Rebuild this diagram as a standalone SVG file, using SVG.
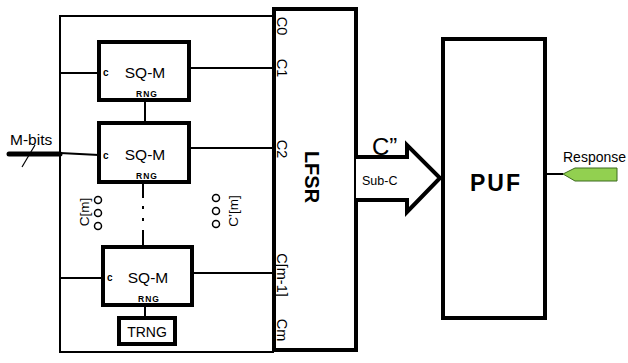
<svg xmlns="http://www.w3.org/2000/svg" width="628" height="363" viewBox="0 0 628 363">
<style>
text{font-family:"Liberation Sans",Arial,sans-serif;fill:#000}
.box{fill:#fff;stroke:#000;stroke-width:4}
.w{fill:none;stroke:#000;stroke-width:2}
.sq{font-size:15.5px;text-anchor:middle}
.rng{font-size:8.5px;font-weight:bold;text-anchor:middle;letter-spacing:1px}
.c{font-size:10px;font-weight:bold}
.lab{font-size:14.5px;text-anchor:middle;dominant-baseline:central}
.dot{fill:#fff;stroke:#000;stroke-width:1.5}
</style>
<rect width="628" height="363" fill="#fff"/>
<g id="connectors">
<polyline class="w" points="274,16 60,16 60,352 274,352"/>
<line class="w" x1="60" y1="73" x2="99" y2="73"/>
<line class="w" x1="60" y1="153" x2="99" y2="155"/>
<line class="w" x1="60" y1="278" x2="103" y2="278"/>
<line class="w" x1="189" y1="68" x2="274" y2="68"/>
<line class="w" x1="189" y1="148" x2="274" y2="148"/>
<line class="w" x1="192" y1="273" x2="274" y2="273"/>
<line class="w" x1="145" y1="100" x2="145" y2="123"/>
<line class="w" x1="143" y1="182" x2="143" y2="198"/>
<line class="w" x1="143" y1="206" x2="143" y2="209"/>
<line class="w" x1="143" y1="218" x2="143" y2="221"/>
<line class="w" x1="143" y1="230" x2="143" y2="247"/>
<line class="w" x1="145" y1="305" x2="145" y2="318"/>
<line x1="9" y1="154" x2="60" y2="154" stroke="#000" stroke-width="5" stroke-linecap="round"/>
<line x1="22" y1="167" x2="35" y2="145" stroke="#000" stroke-width="1.2"/>
<line class="w" x1="545" y1="174" x2="563" y2="174"/>
</g>
<g id="mbits"><text x="10" y="145" style="font-size:15.5px">M-bits</text></g>
<g id="sqm1">
<rect class="box" x="99" y="42" width="90" height="58"/>
<text class="c" x="103" y="76">c</text>
<text class="sq" x="145" y="78">SQ-M</text>
<text class="rng" x="147" y="97">RNG</text>
</g>
<g id="sqm2">
<rect class="box" x="99" y="123" width="90" height="59"/>
<text class="c" x="103" y="159">c</text>
<text class="sq" x="145" y="160">SQ-M</text>
<text class="rng" x="147" y="179">RNG</text>
</g>
<g id="sqm3">
<rect class="box" x="103" y="247" width="89" height="58"/>
<text class="c" x="107" y="281">c</text>
<text class="sq" x="148" y="283">SQ-M</text>
<text class="rng" x="149" y="302">RNG</text>
</g>
<g id="trng">
<rect class="box" x="119" y="318" width="56" height="26"/>
<text x="147" y="337" style="font-size:14px;text-anchor:middle">TRNG</text>
</g>
<g id="cm-left">
<text class="lab" transform="translate(84,212) rotate(-90)" style="font-size:13.5px">C[m]</text>
<circle class="dot" cx="98" cy="200" r="3.5"/>
<circle class="dot" cx="98" cy="213" r="3.5"/>
<circle class="dot" cx="98" cy="226" r="3.5"/>
</g>
<g id="cm-right">
<text class="lab" transform="translate(233,211) rotate(-90)" style="font-size:13.5px">C’[m]</text>
<circle class="dot" cx="216" cy="198" r="3.5"/>
<circle class="dot" cx="216" cy="211" r="3.5"/>
<circle class="dot" cx="216" cy="224" r="3.5"/>
</g>
<g id="lfsr">
<rect class="box" x="274" y="9" width="82" height="341"/>
<text class="lab" transform="translate(282,26) rotate(90)">C0</text>
<text class="lab" transform="translate(282,68) rotate(90)">C1</text>
<text class="lab" transform="translate(282,149) rotate(90)">C2</text>
<text class="lab" transform="translate(282,275) rotate(90)">C[m-1]</text>
<text class="lab" transform="translate(282,330) rotate(90)">Cm</text>
<text transform="translate(312,177) rotate(90)" style="font-size:20px;font-weight:bold;text-anchor:middle;dominant-baseline:central">LFSR</text>
</g>
<g id="arrow">
<path d="M356,157 H407 V145 L440,178 L407,212 V200 H356" fill="#fff" stroke="#000" stroke-width="4"/>
<text x="372" y="155" style="font-size:24px">C”</text>
<text x="362" y="185" style="font-size:12.5px">Sub-C</text>
</g>
<g id="puf">
<rect class="box" x="443" y="39" width="102" height="279"/>
<text x="496" y="191" style="font-size:23px;font-weight:bold;text-anchor:middle;letter-spacing:2px">PUF</text>
</g>
<g id="response">
<polygon points="563,174 575,168 617,168 617,181 575,181" fill="#92d050" stroke="#3d6b1e" stroke-width="1"/>
<text x="563" y="162" style="font-size:14px">Response</text>
</g>
</svg>
